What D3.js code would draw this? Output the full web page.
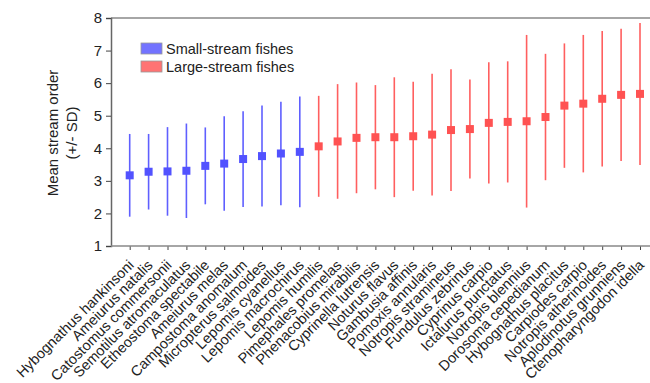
<!DOCTYPE html>
<html>
<head>
<meta charset="utf-8">
<script src="https://cdn.jsdelivr.net/npm/d3@7"></script>
<style>
  body { margin: 0; background: #fff; }
  text { font-family: "Liberation Sans", Arial, sans-serif; fill: #222; }
</style>
</head>
<body>
<svg id="chart" width="650" height="383"></svg>
<script>
"use strict";

// species in plotted order, first 10 are small-stream fishes
let species = [
  "Hybognathus hankinsoni", "Ameiurus natalis", "Catostomus commersonii",
  "Semotilus atromaculatus", "Etheostoma spectabile", "Ameiurus melas",
  "Campostoma anomalum", "Micropterus salmoides", "Lepomis cyanellus",
  "Lepomis macrochirus", "Lepomis humilis", "Pimephales promelas",
  "Phenacobius mirabilis", "Cyprinella lutrensis", "Noturus flavus",
  "Gambusia affinis", "Pomoxis annularis", "Notropis stramineus",
  "Fundulus zebrinus", "Cyprinus carpio", "Ictalurus punctatus",
  "Notropis blennius", "Dorosoma cepedianum", "Hybognathus placitus",
  "Carpiodes carpio", "Notropis atherinoides", "Aplodinotus grunniens",
  "Ctenopharyngodon idella"
];
let means = [3.17, 3.28, 3.29, 3.31, 3.46, 3.53, 3.67, 3.76, 3.84, 3.89,
  4.06, 4.21, 4.32, 4.34, 4.34, 4.37, 4.42, 4.56, 4.59, 4.78,
  4.81, 4.83, 4.96, 5.31, 5.37, 5.52, 5.64, 5.67];
let sds = [1.27, 1.16, 1.36, 1.45, 1.18, 1.45, 1.47, 1.55, 1.59, 1.70,
  1.55, 1.76, 1.70, 1.60, 1.84, 1.67, 1.87, 1.87, 1.52, 1.86,
  1.86, 2.65, 1.94, 1.91, 2.11, 2.08, 2.03, 2.18];
let groups = species.map((d, i) => i < 10 ? "small" : "large");
let yTicks = [1, 2, 3, 4, 5, 6, 7, 8];
let legendLabels = ["Small-stream fishes", "Large-stream fishes"];

let barColor = { small: "#5f5fff", large: "#ff5f5f" };
let markColor = { small: "#5252ff", large: "#ff5252" };

let svg = d3.select("#chart");

let x = d3.scalePoint().domain(species).range([129.7, 640]);
let y = d3.scaleLinear().domain([1, 8]).range([246, 18]);

let left = 111, right = 650;

// frame: top line and axes
svg.append("line")
  .attr("x1", left).attr("x2", right)
  .attr("y1", y(8)).attr("y2", y(8))
  .attr("stroke", "#888").attr("stroke-width", 1.5);

let yAxis = svg.append("g")
  .attr("transform", `translate(${left},0)`)
  .call(d3.axisLeft(y).tickValues(yTicks).tickFormat(d3.format("d"))
    .tickSize(5).tickPadding(4));
yAxis.select(".domain").attr("stroke", "#666").attr("stroke-width", 1.5);
yAxis.selectAll(".tick line").attr("stroke", "#444");
yAxis.selectAll("text").style("font-size", "15px").attr("fill", "#222");

let xAxis = svg.append("g")
  .attr("transform", `translate(0,${y(1)})`)
  .call(d3.axisBottom(x).tickSize(4).tickFormat(""));
xAxis.select(".domain").remove();
xAxis.selectAll(".tick line").attr("stroke", "#444");
svg.append("line")
  .attr("x1", left).attr("x2", right)
  .attr("y1", y(1)).attr("y2", y(1))
  .attr("stroke", "#888").attr("stroke-width", 1.5);

// rotated species labels
svg.append("g").selectAll("text")
  .data(species)
  .enter()
  .append("text")
  .attr("transform", (d) => `translate(${x(d) + 5},${y(1) + 20}) rotate(-45)`)
  .attr("text-anchor", "end")
  .style("font-size", "14.5px")
  .text((d) => d);

// error bars
svg.append("g").selectAll("line")
  .data(species)
  .enter()
  .append("line")
  .attr("x1", (d) => x(d)).attr("x2", (d) => x(d))
  .attr("y1", (d, i) => y(means[i] + sds[i]))
  .attr("y2", (d, i) => y(means[i] - sds[i]))
  .attr("stroke", (d, i) => barColor[groups[i]])
  .attr("stroke-width", 1.6);

// mean markers
svg.append("g").selectAll("rect")
  .data(species)
  .enter()
  .append("rect")
  .attr("x", (d) => x(d) - 4)
  .attr("y", (d, i) => y(means[i]) - 4)
  .attr("width", 8).attr("height", 8)
  .attr("fill", (d, i) => markColor[groups[i]]);

// y title
svg.append("text")
  .attr("transform", `translate(58,133) rotate(-90)`)
  .attr("text-anchor", "middle")
  .style("font-size", "15px")
  .text("Mean stream order");
svg.append("text")
  .attr("transform", `translate(77,133) rotate(-90)`)
  .attr("text-anchor", "middle")
  .style("font-size", "15px")
  .text("(+/- SD)");

// legend
let legendFill = ["#7373ff", "#ff7373"];
let legend = svg.append("g").selectAll("g")
  .data(legendLabels)
  .enter()
  .append("g")
  .attr("transform", (d, i) => `translate(141,${43 + i * 18})`);
legend.append("rect")
  .attr("width", 21).attr("height", 11)
  .attr("fill", (d, i) => legendFill[i])
  .attr("stroke", "#999").attr("stroke-width", 0.8);
legend.append("text")
  .attr("x", 25).attr("y", 10.5)
  .style("font-size", "14.5px")
  .text((d) => d);
</script>
</body>
</html>
